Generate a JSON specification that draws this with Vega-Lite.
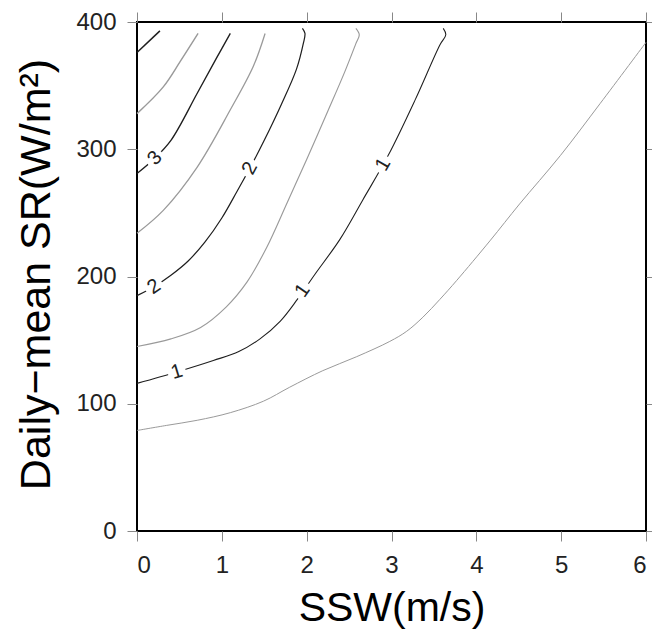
{
  "$schema": "https://vega.github.io/schema/vega-lite/v6.json",
  "width": 509,
  "height": 509,
  "autosize": "none",
  "padding": {"left": 137, "top": 22, "right": 6, "bottom": 102},
  "config": {
    "view": {"stroke": "#000", "strokeWidth": 2},
    "font": "Liberation Sans",
    "axis": {
      "domain": false,
      "grid": false,
      "tickColor": "#888",
      "tickSize": 10,
      "tickWidth": 1,
      "labelFont": "Liberation Sans",
      "labelFontSize": 24,
      "labelColor": "#222",
      "titleFont": "Liberation Sans",
      "titleFontWeight": "normal",
      "titleColor": "#000"
    }
  },
  "datasets": {
    "lines": [
      {"level": 0.5, "i": 0, "x": 0, "y": 79},
      {"level": 0.5, "i": 1, "x": 0.35, "y": 83},
      {"level": 0.5, "i": 2, "x": 0.71, "y": 87},
      {"level": 0.5, "i": 3, "x": 1.1, "y": 93},
      {"level": 0.5, "i": 4, "x": 1.49, "y": 102},
      {"level": 0.5, "i": 5, "x": 1.8, "y": 113},
      {"level": 0.5, "i": 6, "x": 2.19, "y": 126},
      {"level": 0.5, "i": 7, "x": 2.59, "y": 137},
      {"level": 0.5, "i": 8, "x": 2.98, "y": 149},
      {"level": 0.5, "i": 9, "x": 3.18, "y": 157},
      {"level": 0.5, "i": 10, "x": 3.37, "y": 168},
      {"level": 0.5, "i": 11, "x": 3.57, "y": 182},
      {"level": 0.5, "i": 12, "x": 3.77, "y": 197},
      {"level": 0.5, "i": 13, "x": 4.16, "y": 228},
      {"level": 0.5, "i": 14, "x": 4.51, "y": 257},
      {"level": 0.5, "i": 15, "x": 4.99, "y": 295},
      {"level": 0.5, "i": 16, "x": 5.46, "y": 336},
      {"level": 0.5, "i": 17, "x": 6.0, "y": 384},

      {"level": 1, "i": 0, "x": 0, "y": 116},
      {"level": 1, "i": 1, "x": 0.47, "y": 125},
      {"level": 1, "i": 2, "x": 0.9, "y": 134},
      {"level": 1, "i": 3, "x": 1.2, "y": 141},
      {"level": 1, "i": 4, "x": 1.45, "y": 151},
      {"level": 1, "i": 5, "x": 1.69, "y": 165},
      {"level": 1, "i": 6, "x": 1.89, "y": 182},
      {"level": 1, "i": 7, "x": 2.1, "y": 202},
      {"level": 1, "i": 8, "x": 2.39, "y": 229},
      {"level": 1, "i": 9, "x": 2.66, "y": 260},
      {"level": 1, "i": 10, "x": 2.96, "y": 295},
      {"level": 1, "i": 11, "x": 3.28, "y": 339},
      {"level": 1, "i": 12, "x": 3.57, "y": 382},
      {"level": 1, "i": 13, "x": 3.64, "y": 390},
      {"level": 1, "i": 14, "x": 3.61, "y": 395},

      {"level": 1.5, "i": 0, "x": 0, "y": 145},
      {"level": 1.5, "i": 1, "x": 0.4, "y": 151},
      {"level": 1.5, "i": 2, "x": 0.75, "y": 160},
      {"level": 1.5, "i": 3, "x": 1.05, "y": 176},
      {"level": 1.5, "i": 4, "x": 1.3, "y": 196},
      {"level": 1.5, "i": 5, "x": 1.53, "y": 223},
      {"level": 1.5, "i": 6, "x": 1.77, "y": 258},
      {"level": 1.5, "i": 7, "x": 2.0, "y": 292},
      {"level": 1.5, "i": 8, "x": 2.25, "y": 330},
      {"level": 1.5, "i": 9, "x": 2.45, "y": 361},
      {"level": 1.5, "i": 10, "x": 2.58, "y": 383},
      {"level": 1.5, "i": 11, "x": 2.62, "y": 390},
      {"level": 1.5, "i": 12, "x": 2.58, "y": 395},

      {"level": 2, "i": 0, "x": 0, "y": 185},
      {"level": 2, "i": 1, "x": 0.2, "y": 192},
      {"level": 2, "i": 2, "x": 0.4, "y": 201},
      {"level": 2, "i": 3, "x": 0.6, "y": 212},
      {"level": 2, "i": 4, "x": 0.8, "y": 227},
      {"level": 2, "i": 5, "x": 1.0, "y": 246},
      {"level": 2, "i": 6, "x": 1.18, "y": 267},
      {"level": 2, "i": 7, "x": 1.33, "y": 285},
      {"level": 2, "i": 8, "x": 1.5, "y": 307},
      {"level": 2, "i": 9, "x": 1.7, "y": 335},
      {"level": 2, "i": 10, "x": 1.88, "y": 363},
      {"level": 2, "i": 11, "x": 1.96, "y": 383},
      {"level": 2, "i": 12, "x": 1.98, "y": 391},
      {"level": 2, "i": 13, "x": 1.95, "y": 395},

      {"level": 2.5, "i": 0, "x": 0, "y": 234},
      {"level": 2.5, "i": 1, "x": 0.31, "y": 252},
      {"level": 2.5, "i": 2, "x": 0.71, "y": 286},
      {"level": 2.5, "i": 3, "x": 1.1, "y": 331},
      {"level": 2.5, "i": 4, "x": 1.37, "y": 365},
      {"level": 2.5, "i": 5, "x": 1.51, "y": 391},

      {"level": 3, "i": 0, "x": 0, "y": 281},
      {"level": 3, "i": 1, "x": 0.21, "y": 293},
      {"level": 3, "i": 2, "x": 0.4, "y": 307},
      {"level": 3, "i": 3, "x": 0.71, "y": 344},
      {"level": 3, "i": 4, "x": 0.94, "y": 372},
      {"level": 3, "i": 5, "x": 1.1, "y": 391},

      {"level": 3.5, "i": 0, "x": 0, "y": 328},
      {"level": 3.5, "i": 1, "x": 0.31, "y": 349},
      {"level": 3.5, "i": 2, "x": 0.51, "y": 369},
      {"level": 3.5, "i": 3, "x": 0.72, "y": 391},

      {"level": 4, "i": 0, "x": 0, "y": 376},
      {"level": 4, "i": 1, "x": 0.27, "y": 393}
    ],
    "labels": [
      {"n": 1, "lab": "3", "x": 0.21, "y": 293},
      {"n": 2, "lab": "2", "x": 0.2, "y": 192},
      {"n": 3, "lab": "2", "x": 1.33, "y": 285},
      {"n": 4, "lab": "1", "x": 0.47, "y": 125},
      {"n": 5, "lab": "1", "x": 1.95, "y": 189},
      {"n": 6, "lab": "1", "x": 2.9, "y": 288}
    ]
  },
  "layer": [
    {
      "data": {"name": "lines"},
      "mark": {"type": "line", "interpolate": "catmull-rom"},
      "encoding": {
        "x": {
          "field": "x", "type": "quantitative",
          "scale": {"domain": [0, 6], "nice": false, "zero": false},
          "axis": {"orient": "bottom", "values": [0, 1, 2, 3, 4, 5, 6], "title": "SSW(m/s)", "titleFontSize": 41, "labelPadding": 12, "titleY": 89, "titleBaseline": "alphabetic"}
        },
        "y": {
          "field": "y", "type": "quantitative",
          "scale": {"domain": [0, 400], "nice": false},
          "axis": {"orient": "left", "values": [0, 100, 200, 300, 400], "title": "Daily−mean SR(W/m²)", "titleFontSize": 43, "labelPadding": 11, "titleX": -88, "titleY": 252, "titleAngle": -90, "titleBaseline": "alphabetic", "titleAlign": "center"}
        },
        "order": {"field": "i", "type": "quantitative"},
        "color": {
          "field": "level", "type": "ordinal",
          "scale": {"domain": [0.5, 1, 1.5, 2, 2.5, 3, 3.5, 4], "range": ["#9a9a9a", "#1e1e1e", "#9a9a9a", "#1e1e1e", "#9a9a9a", "#1e1e1e", "#9a9a9a", "#1e1e1e"]},
          "legend": null
        },
        "strokeWidth": {
          "field": "level", "type": "ordinal",
          "scale": {"domain": [0.5, 1, 1.5, 2, 2.5, 3, 3.5, 4], "range": [1, 1.5, 1, 1.5, 1, 1.5, 1, 1.5]},
          "legend": null
        }
      }
    },
    {
      "data": {"name": "labels"},
      "mark": {"type": "circle", "color": "white", "opacity": 1, "size": 340},
      "encoding": {
        "x": {"field": "x", "type": "quantitative", "axis": {"orient": "top", "values": [0, 1, 2, 3, 4, 5, 6], "labels": false, "title": null}},
        "y": {"field": "y", "type": "quantitative", "axis": {"orient": "right", "values": [0, 100, 200, 300, 400], "labels": false, "title": null}}
      }
    },
    {
      "data": {"name": "labels"},
      "transform": [{"filter": "datum.n == 1"}],
      "mark": {"type": "text", "angle": -47, "fontSize": 20, "color": "#222"},
      "encoding": {"x": {"field": "x", "type": "quantitative", "axis": null}, "y": {"field": "y", "type": "quantitative", "axis": null}, "text": {"field": "lab"}}
    },
    {
      "data": {"name": "labels"},
      "transform": [{"filter": "datum.n == 2"}],
      "mark": {"type": "text", "angle": -34, "fontSize": 20, "color": "#222"},
      "encoding": {"x": {"field": "x", "type": "quantitative", "axis": null}, "y": {"field": "y", "type": "quantitative", "axis": null}, "text": {"field": "lab"}}
    },
    {
      "data": {"name": "labels"},
      "transform": [{"filter": "datum.n == 3"}],
      "mark": {"type": "text", "angle": -62, "fontSize": 20, "color": "#222"},
      "encoding": {"x": {"field": "x", "type": "quantitative", "axis": null}, "y": {"field": "y", "type": "quantitative", "axis": null}, "text": {"field": "lab"}}
    },
    {
      "data": {"name": "labels"},
      "transform": [{"filter": "datum.n == 4"}],
      "mark": {"type": "text", "angle": -17, "fontSize": 20, "color": "#222"},
      "encoding": {"x": {"field": "x", "type": "quantitative", "axis": null}, "y": {"field": "y", "type": "quantitative", "axis": null}, "text": {"field": "lab"}}
    },
    {
      "data": {"name": "labels"},
      "transform": [{"filter": "datum.n == 5"}],
      "mark": {"type": "text", "angle": -55, "fontSize": 20, "color": "#222"},
      "encoding": {"x": {"field": "x", "type": "quantitative", "axis": null}, "y": {"field": "y", "type": "quantitative", "axis": null}, "text": {"field": "lab"}}
    },
    {
      "data": {"name": "labels"},
      "transform": [{"filter": "datum.n == 6"}],
      "mark": {"type": "text", "angle": -60, "fontSize": 20, "color": "#222"},
      "encoding": {"x": {"field": "x", "type": "quantitative", "axis": null}, "y": {"field": "y", "type": "quantitative", "axis": null}, "text": {"field": "lab"}}
    }
  ],
  "resolve": {"axis": {"x": "independent", "y": "independent"}}
}
